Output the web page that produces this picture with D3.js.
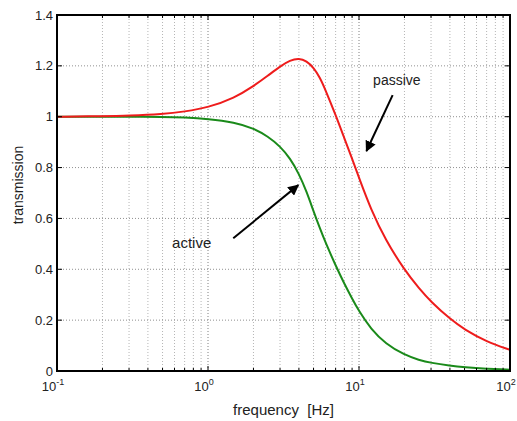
<!DOCTYPE html>
<html>
<head>
<meta charset="utf-8">
<script src="https://cdn.jsdelivr.net/npm/d3@7"></script>
<style>
  body { margin: 0; background: #fff; }
  svg text { font-family: "Liberation Sans", Arial, sans-serif; fill: #222; }
</style>
</head>
<body>
<div id="chart"></div>
<script>
// transmission vs frequency
const freq = [0.1, 0.2, 0.3, 0.5, 0.7, 1, 1.5, 2, 2.5, 3, 3.5, 4, 4.5, 5, 5.5, 6, 7, 8, 9, 10, 12, 15, 20, 25, 30, 40, 50, 70, 100];
const passive = [1.0, 1.002, 1.004, 1.01, 1.02, 1.036, 1.074, 1.12, 1.162, 1.198, 1.222, 1.23, 1.219, 1.193, 1.155, 1.105, 1.007, 0.915, 0.835, 0.76, 0.635, 0.515, 0.397, 0.325, 0.272, 0.205, 0.163, 0.115, 0.083];
const active = [1.0, 1.0, 1.0, 0.999, 0.997, 0.992, 0.978, 0.955, 0.922, 0.884, 0.836, 0.776, 0.705, 0.628, 0.562, 0.505, 0.415, 0.343, 0.285, 0.235, 0.165, 0.107, 0.063, 0.043, 0.032, 0.021, 0.015, 0.009, 0.005];
const yTicks = [0, 0.2, 0.4, 0.6, 0.8, 1, 1.2, 1.4];
const xDecades = [0.1, 1, 10, 100];
const xExponents = ["-1", "0", "1", "2"];

const W = 517, H = 421;
const margin = { top: 15, right: 7, bottom: 50, left: 57 };

const svg = d3.select('#chart').append('svg')
  .attr('width', W)
  .attr('height', H);

const x = d3.scaleLog().domain([0.1, 100]).range([margin.left, W - margin.right]);
const y = d3.scaleLinear().domain([0, 1.4]).range([H - margin.bottom, margin.top]);

// minor log ticks 2..9 per decade
const minor = [];
xDecades.slice(0, -1).forEach(d => { for (let k = 2; k <= 9; k++) minor.push(d * k); });

const grid = svg.append('g');
grid.selectAll('.vminor').data(minor).enter().append('line')
  .attr('x1', d => x(d)).attr('x2', d => x(d))
  .attr('y1', y(0)).attr('y2', y(1.4))
  .attr('stroke', '#b5b5b5').attr('stroke-dasharray', '1,2');
grid.selectAll('.vmajor').data(xDecades.slice(1, -1)).enter().append('line')
  .attr('x1', d => x(d)).attr('x2', d => x(d))
  .attr('y1', y(0)).attr('y2', y(1.4))
  .attr('stroke', '#808080').attr('stroke-dasharray', '1,2');
grid.selectAll('.hgrid').data(yTicks.slice(1, -1)).enter().append('line')
  .attr('x1', x(0.1)).attr('x2', x(100))
  .attr('y1', d => y(d)).attr('y2', d => y(d))
  .attr('stroke', '#909090').attr('stroke-dasharray', '1,2');

// curves
const line = d3.line().x(d => x(d[0])).y(d => y(d[1])).curve(d3.curveBasis);
svg.append('path').datum(freq.map((f, i) => [f, active[i]]))
  .attr('d', line).attr('fill', 'none').attr('stroke', '#1a8a1a').attr('stroke-width', 2);
svg.append('path').datum(freq.map((f, i) => [f, passive[i]]))
  .attr('d', line).attr('fill', 'none').attr('stroke', '#ee1c1c').attr('stroke-width', 2);

// inner ticks
const ticks = svg.append('g').attr('stroke', '#000');
yTicks.forEach(v => {
  ticks.append('line').attr('x1', x(0.1)).attr('x2', x(0.1) + 5).attr('y1', y(v)).attr('y2', y(v));
  ticks.append('line').attr('x1', x(100)).attr('x2', x(100) - 5).attr('y1', y(v)).attr('y2', y(v));
});
xDecades.forEach(d => {
  ticks.append('line').attr('x1', x(d)).attr('x2', x(d)).attr('y1', y(0)).attr('y2', y(0) - 5);
  ticks.append('line').attr('x1', x(d)).attr('x2', x(d)).attr('y1', y(1.4)).attr('y2', y(1.4) + 5);
});
minor.forEach(d => {
  ticks.append('line').attr('x1', x(d)).attr('x2', x(d)).attr('y1', y(0)).attr('y2', y(0) - 3);
  ticks.append('line').attr('x1', x(d)).attr('x2', x(d)).attr('y1', y(1.4)).attr('y2', y(1.4) + 3);
});

// box
svg.append('rect')
  .attr('x', x(0.1)).attr('y', y(1.4))
  .attr('width', x(100) - x(0.1)).attr('height', y(0) - y(1.4))
  .attr('fill', 'none').attr('stroke', '#000').attr('stroke-width', 2);

// tick labels
svg.selectAll('.ylab').data(yTicks).enter().append('text')
  .attr('x', x(0.1) - 4).attr('y', d => y(d) + 4.5)
  .attr('text-anchor', 'end').style('font-size', '13px')
  .text(d => d === 0 ? '0' : String(+d.toFixed(1)));

const xl = svg.selectAll('.xlab').data(xDecades).enter().append('text')
  .attr('x', d => x(d) - 4).attr('y', y(0) + 20)
  .attr('text-anchor', 'middle').style('font-size', '13px');
xl.append('tspan').text('10');
xl.append('tspan').attr('dy', -6).style('font-size', '9px').text((d, i) => xExponents[i]);

// axis titles
svg.append('text')
  .attr('x', (x(0.1) + x(100)) / 2).attr('y', 415)
  .attr('text-anchor', 'middle').style('font-size', '15px')
  .attr('xml:space', 'preserve')
  .text('frequency  [Hz]');
svg.append('text')
  .attr('transform', `translate(23,${(y(0) + y(1.4)) / 2 - 8}) rotate(-90)`)
  .attr('text-anchor', 'middle').style('font-size', '14px')
  .text('transmission');

// annotations
svg.append('defs').append('marker')
  .attr('id', 'head').attr('viewBox', '0 0 10 10')
  .attr('refX', 9).attr('refY', 5)
  .attr('markerWidth', 5.5).attr('markerHeight', 5.5)
  .attr('orient', 'auto')
  .append('path').attr('d', 'M0,0 L10,5 L0,10 z').attr('fill', '#000');

function arrow(f0, v0, f1, v1) {
  svg.append('line')
    .attr('x1', x(f0)).attr('y1', y(v0))
    .attr('x2', x(f1)).attr('y2', y(v1))
    .attr('stroke', '#000').attr('stroke-width', 2)
    .attr('marker-end', 'url(#head)');
}
svg.append('text').attr('x', x(12.4)).attr('y', y(1.125))
  .style('font-size', '14px').text('passive');
arrow(16.7, 1.085, 11.2, 0.865);
svg.append('text').attr('x', x(0.578)).attr('y', y(0.484))
  .style('font-size', '15px').text('active');
arrow(1.47, 0.522, 3.96, 0.731);
</script>
</body>
</html>
